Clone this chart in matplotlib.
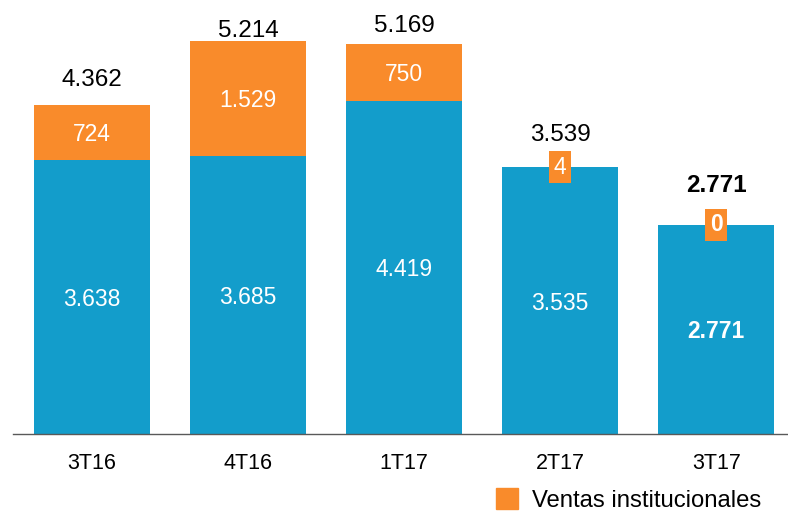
import matplotlib.pyplot as plt
from matplotlib.patches import Rectangle

plt.rcParams['font.family'] = ['Liberation Sans', 'DejaVu Sans']

periods = ['3T16', '4T16', '1T17', '2T17', '3T17']
otras = [3638, 3685, 4419, 3535, 2771]
institucionales = [724, 1529, 750, 4, 0]
totales = [4362, 5214, 5169, 3539, 2771]
blue_lbl = ['3.638', '3.685', '4.419', '3.535', '2.771']
orange_lbl = ['724', '1.529', '750', '4', '0']
total_lbl = ['4.362', '5.214', '5.169', '3.539', '2.771']

blue = '#139dcb'
orange = '#f98b2b'
# pixel gap between bar top and total label (as in the original slide)
total_gap = [27, 12, 21, 35, 42]

W, H = 788, 511
fig = plt.figure(figsize=(W / 100, H / 100), dpi=100)
ax = fig.add_axes([13 / W, (H - 434) / H, 775 / W, 434 / H])

x = range(len(periods))
ax.bar(x, otras, width=0.745, color=blue)
ax.bar(x, institucionales, width=0.745, bottom=otras, color=orange)

ymax = 5754
px = ymax / 434.0  # data units per pixel

for i in x:
    bold = 'bold' if i == len(periods) - 1 else 'normal'
    ax.text(i, otras[i] / 2, blue_lbl[i], ha='center', va='center_baseline',
            color='white', fontsize=16.5, fontweight=bold)
    if institucionales[i] > 100:
        ax.text(i, otras[i] + institucionales[i] / 2, orange_lbl[i], ha='center',
                va='center_baseline', color='white', fontsize=16.5)
    else:
        ax.text(i, totales[i], orange_lbl[i], ha='center', va='center',
                color='white', fontsize=16.5, fontweight=bold,
                bbox=dict(boxstyle='square,pad=0.2', fc=orange, ec='none'))
    ax.text(i, totales[i] + total_gap[i] * px, total_lbl[i], ha='center',
            va='center_baseline', color='black', fontsize=17.5, fontweight=bold)

ax.set_xlim(-0.506, 4.46)
ax.set_ylim(0, ymax)
ax.set_xticks(list(x))
ax.set_xticklabels(periods, fontsize=15.5)
ax.tick_params(axis='x', length=0, pad=14)
ax.set_yticks([])
for s in ['top', 'right', 'left']:
    ax.spines[s].set_visible(False)
ax.spines['bottom'].set_color('#595959')
ax.spines['bottom'].set_linewidth(1.0)

# legend
fig.patches.append(Rectangle((496 / W, (H - 509) / H), 22 / W, 21 / H,
                             transform=fig.transFigure, color=orange))
fig.text(532 / W, (H - 498) / H, 'Ventas institucionales', ha='left',
         va='center_baseline', fontsize=17.2)

fig.savefig('out.png', dpi=100)
